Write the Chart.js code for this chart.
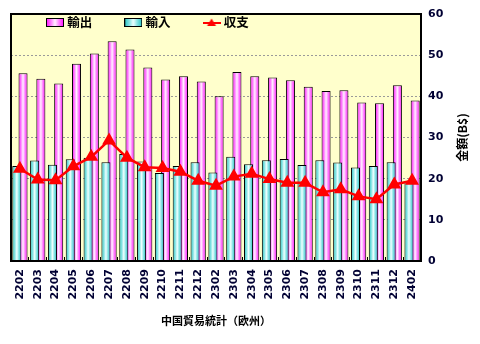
<!DOCTYPE html>
<html>
<head>
<meta charset="utf-8">
<script src="https://cdn.jsdelivr.net/npm/chart.js@4.4.1/dist/chart.umd.min.js"></script>
<style>
  body { margin: 0; background: #fff; }
  canvas { display: block; }
</style>
</head>
<body>
<canvas id="trade" width="480" height="344"></canvas>
<script>
const months = ['2202', '2203', '2204', '2205', '2206', '2207', '2208', '2209', '2210', '2211', '2212',
  '2302', '2303', '2304', '2305', '2306', '2307', '2308', '2309', '2310', '2311', '2312', '2402'];
const exportsEU = [45.6, 44.3, 43.1, 47.9, 50.4, 53.4, 51.4, 47.0, 44.1, 44.9, 43.6,
  40.0, 45.9, 44.9, 44.6, 43.9, 42.3, 41.3, 41.5, 38.5, 38.3, 42.7, 39.0];
const importsEU = [23.1, 24.4, 23.4, 24.7, 25.1, 24.0, 26.0, 24.2, 21.4, 23.1, 24.0,
  21.5, 25.3, 23.5, 24.5, 24.8, 23.3, 24.5, 23.9, 22.7, 23.1, 24.0, 19.4];
const balanceEU = [22.4, 19.8, 19.6, 23.0, 25.3, 29.3, 25.1, 22.8, 22.6, 21.7, 19.5,
  18.3, 20.5, 21.2, 19.9, 19.0, 19.0, 16.7, 17.4, 15.7, 15.0, 18.6, 19.5];
const yTicks = [0, 10, 20, 30, 40, 50, 60];

const cjk = '"Noto Sans CJK JP", "Noto Sans", sans-serif';
const pinkStops = [[0, '#ff00ff'], [0.3, '#ff8cff'], [0.5, '#fff0ff'], [0.7, '#ff8cff'], [1, '#ff00ff']];
const cyanStops = [[0, '#20c0c0'], [0.3, '#8ee6e6'], [0.5, '#f0ffff'], [0.7, '#8ee6e6'], [1, '#20c0c0']];

function swatch(stops) {
  const c = document.createElement('canvas');
  c.width = 18; c.height = 9;
  const g = c.getContext('2d');
  const grad = g.createLinearGradient(0, 0, 18, 0);
  stops.forEach(([p, col]) => grad.addColorStop(p, col));
  g.fillStyle = grad;
  g.fillRect(0, 0, 18, 9);
  g.strokeStyle = '#000';
  g.strokeRect(0.5, 0.5, 17, 8);
  return c;
}

function lineIcon() {
  const c = document.createElement('canvas');
  c.width = 18; c.height = 9;
  const g = c.getContext('2d');
  g.fillStyle = '#ff0000';
  g.fillRect(0, 4, 18, 2);
  g.beginPath();
  g.moveTo(9, 0.5); g.lineTo(13.5, 8); g.lineTo(4.5, 8);
  g.closePath();
  g.fill();
  return c;
}

const legendIcons = [swatch(pinkStops), swatch(cyanStops), lineIcon()];

// excel style shaded bars, built per bar once positions are known
const barShade = {
  id: 'barShade',
  beforeDatasetsDraw(chart) {
    const ctx = chart.ctx;
    [pinkStops, cyanStops].forEach((stops, i) => {
      chart.getDatasetMeta(i).data.forEach(bar => {
        const g = ctx.createLinearGradient(bar.x - bar.width / 2, 0, bar.x + bar.width / 2, 0);
        stops.forEach(([p, col]) => g.addColorStop(p, col));
        bar.options.backgroundColor = g;
      });
    });
  }
};

// legend sits inside the plot, does not take layout space
const floatingLegend = {
  id: 'floatingLegend',
  beforeLayout(chart) {
    const legend = chart.legend;
    if (legend._floating) return;
    const fit = legend.fit;
    legend.fit = function () {
      fit.call(this);
      this.height = 0;
    };
    legend._floating = true;
  },
  afterLayout(chart) {
    const legend = chart.legend;
    legend.left = 14;
    legend.top = -18.75;
    legend.bottom = 40;
    legend.height = legend.bottom - legend.top;
  }
};

const plotFrame = {
  id: 'plotFrame',
  beforeDraw(chart) {
    const {ctx, chartArea: a} = chart;
    ctx.save();
    ctx.fillStyle = '#ffffcc';
    ctx.fillRect(a.left, a.top, a.width, a.height);
    ctx.restore();
  },
  afterDraw(chart) {
    const {ctx, chartArea: a} = chart;
    ctx.save();
    ctx.strokeStyle = '#000';
    ctx.lineWidth = 2;
    ctx.strokeRect(a.left, a.top, a.width, a.height);
    // y axis title reads bottom to top on the right side
    ctx.translate(chart.scales.y.right - 18, (a.top + a.bottom) / 2);
    ctx.rotate(-Math.PI / 2);
    ctx.font = 'bold 12px ' + cjk;
    ctx.fillStyle = '#000';
    ctx.textAlign = 'center';
    ctx.textBaseline = 'middle';
    ctx.fillText('金額(B$)', 0, 0);
    ctx.restore();
  }
};

Chart.defaults.font.family = '"DejaVu Sans", sans-serif';

new Chart(document.getElementById('trade'), {
  type: 'bar',
  data: {
    labels: months,
    datasets: [
      {
        label: '輸出',
        data: exportsEU,
        backgroundColor: () => '#ff00ff',
        borderColor: '#000',
        borderWidth: 1,
        borderSkipped: 'bottom',
        categoryPercentage: 0.7,
        barPercentage: 1.45,
        order: 2
      },
      {
        label: '輸入',
        data: importsEU,
        backgroundColor: () => '#33cccc',
        borderColor: '#000',
        borderWidth: 1,
        borderSkipped: 'bottom',
        categoryPercentage: 0.7,
        barPercentage: 1.45,
        order: 1
      },
      {
        type: 'line',
        label: '収支',
        data: balanceEU,
        borderColor: '#ff0000',
        backgroundColor: '#ff0000',
        borderWidth: 2.5,
        pointStyle: 'triangle',
        pointRadius: 5.5,
        pointBackgroundColor: '#ff0000',
        pointBorderColor: '#ff0000',
        tension: 0,
        order: 0
      }
    ]
  },
  options: {
    responsive: false,
    animation: false,
    layout: { padding: { left: 11, top: 14, right: 0, bottom: 0 } },
    plugins: {
      tooltip: { enabled: false },
      legend: {
        fullSize: false,
        align: 'start',
        labels: {
          usePointStyle: true,
          pointStyleWidth: 12,
          padding: 35,
          color: '#000',
          font: { family: cjk, size: 12.5, weight: 'bold' },
          sort: (a, b) => a.datasetIndex - b.datasetIndex,
          generateLabels(chart) {
            const items = Chart.defaults.plugins.legend.labels.generateLabels(chart);
            items.forEach(it => { it.pointStyle = legendIcons[it.datasetIndex]; });
            return items;
          }
        }
      }
    },
    scales: {
      x: {
        offset: true,
        grid: { display: true, drawOnChartArea: false, drawTicks: true, tickLength: -4, color: '#000' },
        border: { display: false },
        ticks: {
          autoSkip: false,
          minRotation: 90,
          maxRotation: 90,
          padding: 12,
          color: '#000033',
          font: { size: 11, weight: 'bold' }
        },
        title: {
          display: true,
          text: '中国貿易統計（欧州）',
          color: '#000',
          font: { family: cjk, size: 11, weight: 'bold' },
          padding: { top: 0, bottom: 17 }
        },
        afterFit(scale) { scale.height = 83; }
      },
      y: {
        position: 'right',
        min: 0,
        max: 60,
        afterBuildTicks(scale) { scale.ticks = yTicks.map(v => ({ value: v })); },
        grid: { color: '#9a9a9a', drawTicks: false },
        border: { display: false, dash: [2, 2] },
        ticks: {
          padding: 7,
          color: '#000033',
          font: { size: 11, weight: 'bold' }
        },
        afterFit(scale) { scale.width = 59; }
      }
    }
  },
  plugins: [barShade, floatingLegend, plotFrame]
});
</script>
</body>
</html>
